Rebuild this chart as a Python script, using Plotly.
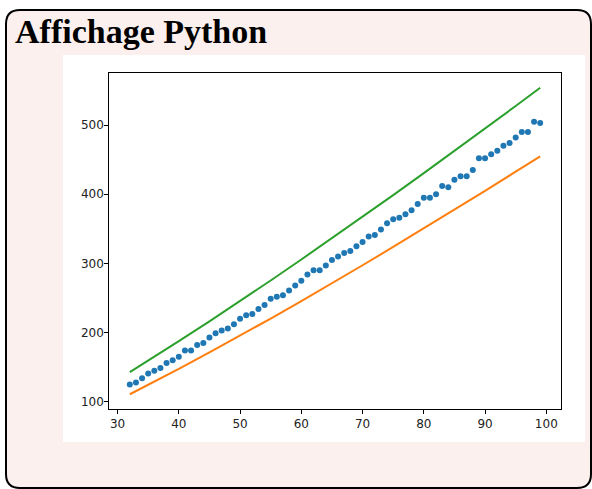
import plotly.graph_objects as go

# ---- data ----
x_points = list(range(32, 100))
y_points = [125, 128, 134, 141, 145, 149, 156, 160, 165, 174,
            174, 182, 185, 193, 199, 203, 206, 212, 220, 225,
            227, 234, 240, 249, 252, 254, 261, 268, 275, 284,
            290, 290, 297, 305, 310, 315, 318, 325, 331, 339,
            341, 349, 358, 364, 366, 371, 377, 386, 395, 395,
            400, 412, 410, 421, 426, 426, 435, 452, 452, 458,
            463, 470, 474, 482, 490, 490, 505, 503]

x_curve = [32, 35, 40, 45, 50, 55, 60, 65, 70, 75, 80, 85, 90, 95, 99]
y_lower = [110.9, 124.4, 147.6, 171.3, 195.6, 220.4, 245.7, 271.3,
           297.4, 323.8, 350.6, 377.6, 405.0, 432.6, 454.9]
y_upper = [142.9, 159.4, 187.6, 216.3, 245.6, 275.4, 305.7, 336.3,
           367.4, 398.8, 430.6, 462.6, 495.0, 527.6, 553.9]

x_ticks = [30, 40, 50, 60, 70, 80, 90, 100]
y_ticks = [100, 200, 300, 400, 500]

title_text = "Affichage Python"

# ---- figure ----
W, H = 592, 489
fig = go.Figure()
fig.add_trace(go.Scatter(x=x_points, y=y_points, mode="markers",
                         marker=dict(color="#1f77b4", size=6), showlegend=False))
fig.add_trace(go.Scatter(x=x_curve, y=y_lower, mode="lines",
                         line=dict(color="#ff7f0e", width=2), showlegend=False))
fig.add_trace(go.Scatter(x=x_curve, y=y_upper, mode="lines",
                         line=dict(color="#2ca02c", width=2), showlegend=False))


def px(v):
    return v / W


def py(v):
    return 1 - v / H


# rounded box
x0, x1, y0, y1, r = 6, 591, 10, 488, 14
path = (f"M {px(x0 + r)},{py(y0)} L {px(x1 - r)},{py(y0)} "
        f"Q {px(x1)},{py(y0)} {px(x1)},{py(y0 + r)} "
        f"L {px(x1)},{py(y1 - r)} Q {px(x1)},{py(y1)} {px(x1 - r)},{py(y1)} "
        f"L {px(x0 + r)},{py(y1)} Q {px(x0)},{py(y1)} {px(x0)},{py(y1 - r)} "
        f"L {px(x0)},{py(y0 + r)} Q {px(x0)},{py(y0)} {px(x0 + r)},{py(y0)} Z")

shapes = [
    dict(type="path", path=path, xref="paper", yref="paper",
         fillcolor="#fcf0ee", line=dict(color="black", width=2), layer="below"),
    dict(type="rect", xref="paper", yref="paper",
         x0=px(63), x1=px(585), y0=py(442), y1=py(55),
         fillcolor="white", line=dict(width=0), layer="below"),
]

axis_common = dict(showgrid=False, zeroline=False, showline=True, linecolor="black",
                   linewidth=1, mirror=True, ticks="outside", ticklen=4, tickwidth=1,
                   tickcolor="black",
                   tickfont=dict(family="DejaVu Sans", size=12, color="#222"))

fig.update_layout(
    width=W, height=H, autosize=False,
    margin=dict(l=0, r=0, t=0, b=0),
    paper_bgcolor="white", plot_bgcolor="rgba(0,0,0,0)",
    shapes=shapes,
    xaxis=dict(domain=[109.3 / W, 560.7 / W], range=[28.65, 102.35],
               tickvals=x_ticks, **axis_common),
    yaxis=dict(domain=[1 - 409 / H, 1 - 73 / H], range=[89.6, 575.3],
               tickvals=y_ticks, ticklabelstandoff=-2, **axis_common),
    annotations=[dict(text=f"<b>{title_text}</b>", xref="paper", yref="paper",
                      x=px(13), y=py(11), xanchor="left", yanchor="top",
                      showarrow=False,
                      font=dict(family="Liberation Serif", size=34, color="black"))],
)

fig.write_html("out.html", config={"displayModeBar": False},
               post_script="document.body.style.margin='0';document.body.style.overflow='hidden';")
